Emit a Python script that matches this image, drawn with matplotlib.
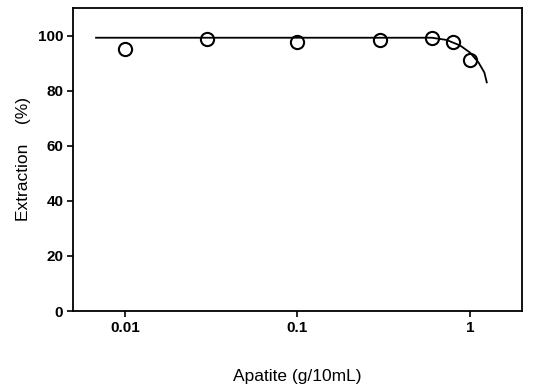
import numpy as np
from matplotlib import pyplot as plt
from matplotlib.ticker import FixedLocator, NullLocator, FixedFormatter

plt.rcParams['font.family'] = ['Liberation Sans', 'DejaVu Sans']

# measured points
apatite = [0.01, 0.03, 0.1, 0.3, 0.6, 0.8, 1.0]
extraction = [95.0, 98.9, 97.8, 98.3, 99.0, 97.6, 91.1]

# fitted curve
curve_x = [0.0068, 0.1, 0.6, 0.73, 0.875, 1.0, 1.12, 1.21, 1.25]
curve_y = [99.2, 99.2, 99.2, 98.4, 96.4, 93.8, 90.2, 86.6, 83.0]

fig = plt.figure(figsize = (5.35, 3.89), dpi = 100)
ax = fig.add_axes([0.1364, 0.2005, 0.8393, 0.779])

ax.plot(curve_x, curve_y, color = 'black', lw = 1.3)
ax.plot(apatite, extraction, 'o', ms = 9.5, mfc = 'none', mec = 'black', mew = 1.5)

ax.set_xscale('log')
ax.set_xlim(0.005, 2.0)
ax.set_ylim(0, 110)
ax.xaxis.set_major_locator(FixedLocator([0.01, 0.1, 1]))
ax.xaxis.set_major_formatter(FixedFormatter(['0.01', '0.1', '1']))
ax.xaxis.set_minor_locator(NullLocator())
ax.set_yticks([0, 20, 40, 60, 80, 100])

ax.tick_params(direction = 'out', length = 4.5, width = 1.2, labelsize = 11, pad = 2.5)
for lab in ax.get_xticklabels() + ax.get_yticklabels():
    lab.set_fontweight('bold')
for s in ax.spines.values():
    s.set_linewidth(1.3)

ax.set_ylabel('Extraction    (%)', fontsize = 12.5, labelpad = 5)
ax.set_xlabel('Apatite (g/10mL)', fontsize = 12.5, labelpad = 25)

fig.savefig('out.png', dpi = 100)
